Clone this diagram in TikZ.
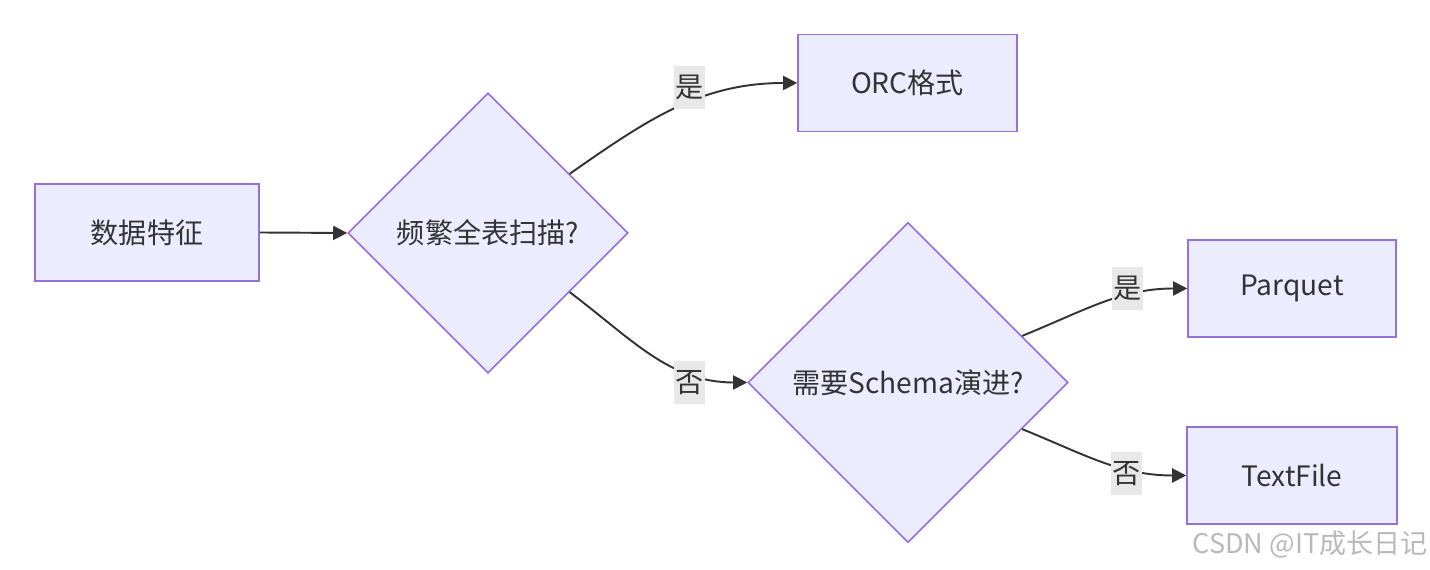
\documentclass[tikz,border=0pt]{standalone}
\usepackage{fontspec}
\setmainfont{Noto Sans CJK SC}
\definecolor{boxfill}{HTML}{ECECFF}
\definecolor{boxline}{HTML}{9370DB}
\definecolor{ink}{HTML}{333333}
\definecolor{lblbg}{HTML}{E8E8E8}
\usetikzlibrary{calc, positioning, arrows.meta, shapes.geometric}

\begin{document}
\begin{tikzpicture}[
    box/.style={draw=boxline, fill=boxfill, text=ink, line width=0.45pt,
      minimum height=0.97cm, inner sep=2pt,
      font=\fontsize{8}{10}\selectfont, align=center},
    decision/.style={diamond, aspect=1, draw=boxline, fill=boxfill, text=ink,
      line width=0.45pt, inner sep=0pt, font=\fontsize{8}{10}\selectfont},
    lbl/.style={fill=lblbg, text=ink, inner xsep=0.4pt, inner ysep=0pt,
      minimum height=0.43cm, font=\fontsize{8}{10}\selectfont},
    link/.style={draw=ink, line width=0.55pt,
      -{Triangle[length=1.4mm, width=1.4mm]}},
  ]
    \useasboundingbox (0, 0) rectangle (14.3, -5.7);

    \node[box, minimum width=2.24cm] (feat) at (1.47, -2.325) {数据特征};
    \node[decision, minimum width=2.8cm, minimum height=2.8cm] (scan) at (4.88, -2.33) {频繁全表扫描?};
    \node[box, minimum width=2.19cm] (orc) at (9.075, -0.83) {ORC格式};
    \node[decision, minimum width=3.2cm, minimum height=3.2cm] (schema) at (9.08, -3.825) {需要Schema演进?};
    \node[box, minimum width=2.08cm] (parquet) at (12.92, -2.885) {Parquet};
    \node[box, minimum width=2.1cm] (textfile) at (12.92, -4.755) {TextFile};

    \draw[link] (feat.east) -- (scan.west);
    \draw[link] ($(scan.north)!0.58!(scan.east)$) to[out=35, in=180]
      node[lbl, pos=0.56, yshift=0.15cm] {是} (orc.west);
    \draw[link] ($(scan.south)!0.58!(scan.east)$) to[out=-37, in=180]
      node[lbl, pos=0.72, yshift=-0.09cm] {否} (schema.west);
    \draw[link] ($(schema.north)!0.71!(schema.east)$) to[out=22, in=180]
      node[lbl, pos=0.66, yshift=0.07cm] {是} (parquet.west);
    \draw[link] ($(schema.south)!0.71!(schema.east)$) to[out=-22, in=180]
      node[lbl, pos=0.66, yshift=-0.05cm] {否} (textfile.west);

    \node[text=gray!55, font=\fontsize{7.7}{9}\selectfont, inner sep=0pt] (mark) at (13.1, -5.44) {CSDN @IT成长日记};
  \end{tikzpicture}
\end{document}
